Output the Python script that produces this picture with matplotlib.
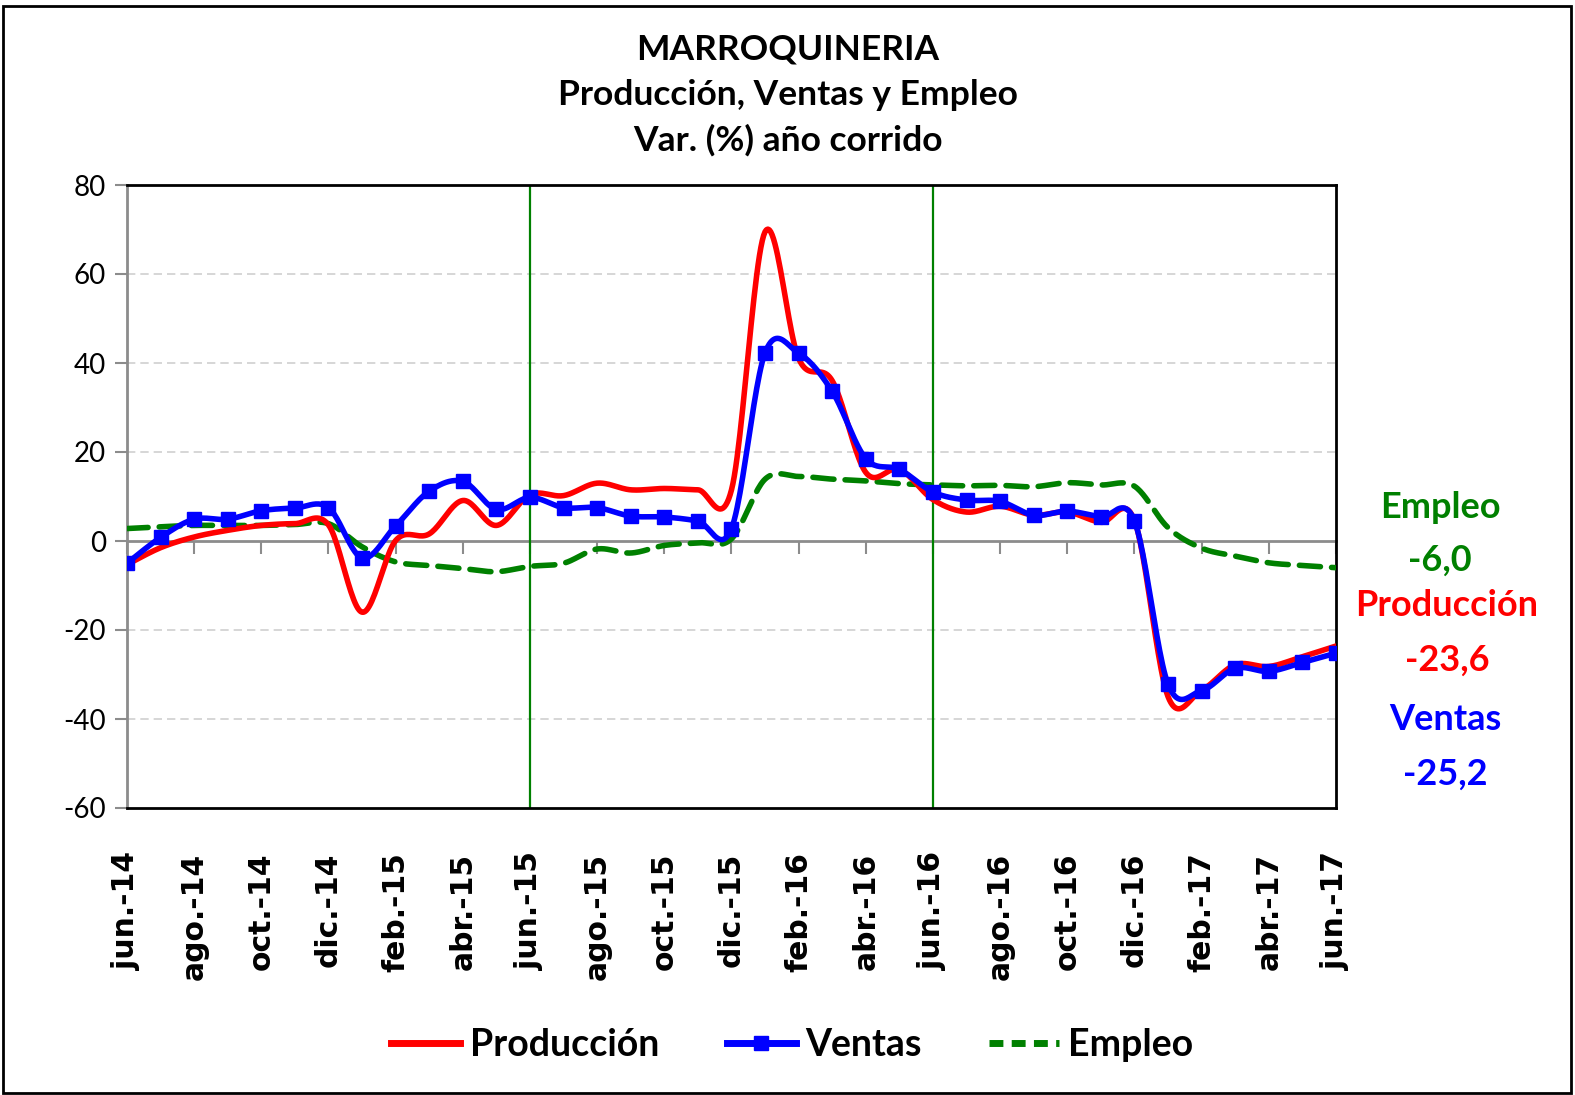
import numpy as np
import matplotlib
matplotlib.use("Agg")
import matplotlib.pyplot as plt
from matplotlib.lines import Line2D
from matplotlib.patches import Rectangle

W, H = 1575, 1095

meses = [
    "jun.-14", "jul.-14", "ago.-14", "sep.-14", "oct.-14", "nov.-14", "dic.-14",
    "ene.-15", "feb.-15", "mar.-15", "abr.-15", "may.-15", "jun.-15",
    "jul.-15", "ago.-15", "sep.-15", "oct.-15", "nov.-15", "dic.-15",
    "ene.-16", "feb.-16", "mar.-16", "abr.-16", "may.-16", "jun.-16",
    "jul.-16", "ago.-16", "sep.-16", "oct.-16", "nov.-16", "dic.-16",
    "ene.-17", "feb.-17", "mar.-17", "abr.-17", "may.-17", "jun.-17",
]

produccion = [-5.3, -1.5, 0.9, 2.4, 3.5, 3.9, 3.6, -16.0, 0.1, 1.6, 9.1, 3.5, 10.4,
              10.2, 13.0, 11.5, 11.8, 11.5, 11.5, 69.5, 41.0, 36.0, 15.4, 16.1, 9.3,
              6.5, 7.8, 5.8, 6.5, 4.2, 4.6, -35.0, -33.5, -27.8, -28.2, -26.0, -23.6]

ventas = [-5.0, 0.8, 4.9, 4.9, 6.8, 7.4, 7.5, -3.8, 3.4, 11.2, 13.4, 7.1, 9.8,
          7.5, 7.5, 5.6, 5.4, 4.5, 2.8, 42.3, 42.2, 33.6, 18.5, 16.1, 11.0,
          9.2, 8.9, 5.8, 6.7, 5.4, 4.5, -32.2, -33.6, -28.6, -29.3, -27.3, -25.2]

empleo = [2.8, 3.2, 3.5, 3.5, 3.5, 3.7, 3.9, -1.3, -4.7, -5.5, -6.2, -6.9, -5.7,
          -5.0, -1.8, -2.7, -1.0, -0.4, 0.5, 13.9, 14.5, 13.9, 13.5, 12.9, 12.6,
          12.4, 12.5, 12.2, 13.1, 12.6, 12.3, 3.0, -1.6, -3.4, -4.9, -5.5, -6.0]

lineas_junio = ["jun.-15", "jun.-16"]

ROJO = "#ff0000"
AZUL = "#0000ff"
VERDE = "#008000"
TITLE_FONT = "Lato"
TICK_FONT = "DejaVu Sans"


def smooth(x, y, n=24):
    # excel-like smoothed line: cubic bezier through each pair of points
    x = np.asarray(x, float)
    y = np.asarray(y, float)
    px = np.concatenate([[x[0]], x, [x[-1]]])
    py = np.concatenate([[y[0]], y, [y[-1]]])
    t = np.linspace(0, 1, n, endpoint=False)[:, None]
    xs, ys = [], []
    for i in range(1, len(px) - 2):
        p0 = np.array([px[i - 1], py[i - 1]])
        p1 = np.array([px[i], py[i]])
        p2 = np.array([px[i + 1], py[i + 1]])
        p3 = np.array([px[i + 2], py[i + 2]])
        c1 = p1 + (p2 - p0) / 6
        c2 = p2 - (p3 - p1) / 6
        b = ((1 - t) ** 3) * p1 + 3 * ((1 - t) ** 2) * t * c1 \
            + 3 * (1 - t) * t ** 2 * c2 + t ** 3 * p2
        xs.append(b[:, 0])
        ys.append(b[:, 1])
    xs.append([x[-1]])
    ys.append([y[-1]])
    return np.concatenate(xs), np.concatenate(ys)


x = np.arange(len(meses))

fig = plt.figure(figsize=(W / 100, H / 100), dpi=100)
fig.patch.set_facecolor("white")
ax = fig.add_axes([127 / W, 1 - 808 / H, (1336 - 127) / W, (808 - 185) / H])

ymin, ymax = -60, 80
ax.set_xlim(0, len(meses) - 1)
ax.set_ylim(ymin, ymax)

# grid
for v in range(-40, 80, 20):
    if v != 0:
        ax.axhline(v, color="#d0d0d0", lw=1.2, ls=(0, (5, 3)), zorder=1)

for m in lineas_junio:
    ax.axvline(meses.index(m), color=VERDE, lw=1.6, zorder=2)

# zero axis with its tick marks
zero = ax.secondary_xaxis((0 - ymin) / (ymax - ymin))
zero.set_xticks(x[::2])
zero.set_xticklabels([])
zero.spines["bottom"].set_color("#8c8c8c")
zero.spines["bottom"].set_linewidth(2)
zero.tick_params(axis="x", direction="out", length=9, width=1.5, color="#8c8c8c")

xs, ys = smooth(x, empleo)
ax.plot(xs, ys, color=VERDE, lw=4, ls=(0, (3.8, 2)), dash_capstyle="round", zorder=3)
xs, ys = smooth(x, produccion)
ax.plot(xs, ys, color=ROJO, lw=4, zorder=4, solid_capstyle="round")
xs, ys = smooth(x, ventas)
ax.plot(xs, ys, color=AZUL, lw=4, zorder=5, solid_capstyle="round")
ax.plot(x, ventas, ls="none", marker="s", ms=10, color=AZUL, zorder=6)

ax.set_yticks(range(ymin, ymax + 1, 20))
ax.set_yticklabels([str(v) for v in range(ymin, ymax + 1, 20)],
                   fontfamily=TITLE_FONT, fontsize=20)
ax.tick_params(axis="y", direction="out", length=9, width=1.5, color="#8c8c8c", pad=6)

ax.set_xticks(x[::2])
ax.set_xticklabels(meses[::2], rotation=90, fontfamily=TICK_FONT,
                   fontweight="bold", fontsize=21.5)
ax.tick_params(axis="x", length=0, pad=32)

ax.spines["left"].set_color("#8c8c8c")
ax.spines["left"].set_linewidth(2)
for s in ["top", "right", "bottom"]:
    ax.spines[s].set_color("black")
    ax.spines[s].set_linewidth(2)

fig.text(0.5, 1 - 95 / H,
         "MARROQUINERIA\nProducción, Ventas y Empleo\nVar. (%) año corrido",
         ha="center", va="center", fontfamily=TITLE_FONT, fontweight="bold",
         fontsize=25.5, linespacing=1.5)


def fmt(v):
    return f"{v:.1f}".replace(".", ",")


right = [
    ("Empleo", fmt(empleo[-1]), VERDE, 1440, 507, 560),
    ("Producción", fmt(produccion[-1]), ROJO, 1447, 606, 660),
    ("Ventas", fmt(ventas[-1]), AZUL, 1445, 720, 774),
]
for name, val, col, px, py1, py2 in right:
    fig.text(px / W, 1 - py1 / H, name, color=col, ha="center", va="center",
             fontfamily=TITLE_FONT, fontweight="bold", fontsize=26)
    fig.text(px / W, 1 - py2 / H, val, color=col, ha="center", va="center",
             fontfamily=TITLE_FONT, fontweight="bold", fontsize=26)

handles = [
    Line2D([], [], color=ROJO, lw=5),
    Line2D([], [], color=AZUL, lw=5, marker="s", ms=10),
    Line2D([], [], color=VERDE, lw=5, ls=(0, (2, 1.2))),
]
fig.legend(handles, ["Producción", "Ventas", "Empleo"], loc="center",
           bbox_to_anchor=(792 / W, 1 - 1045 / H), ncol=3, frameon=False,
           prop={"family": TITLE_FONT, "weight": "bold", "size": 27},
           handlelength=1.85, handletextpad=0.25, columnspacing=1.8)

fig.add_artist(Rectangle((3 / W, 1 - 1093 / H), (1571 - 3) / W, (1093 - 6) / H,
                         transform=fig.transFigure, fill=False, ec="black", lw=2))

fig.savefig("out.png", dpi=100, facecolor="white")
